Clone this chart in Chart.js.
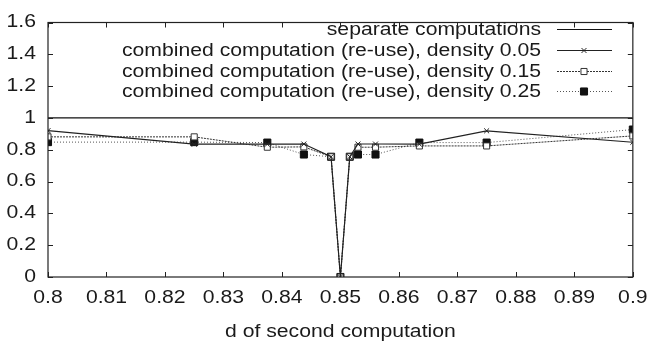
<!DOCTYPE html>
<html><head><meta charset="utf-8">
<script src="https://cdn.jsdelivr.net/npm/chart.js@4/dist/chart.umd.min.js"></script>
<style>html,body{margin:0;padding:0;background:#fff;}</style>
</head><body>
<canvas id="c" width="656" height="345"></canvas>
<script>
const xValues   = [0.8, 0.825, 0.8375, 0.84375, 0.8484, 0.85, 0.8516, 0.853, 0.856, 0.8635, 0.875, 0.9];
const density005 = [0.92, 0.835, 0.835, 0.836, 0.756, 0, 0.756, 0.836, 0.836, 0.835, 0.919, 0.847];
const density015 = [0.881, 0.881, 0.816, 0.818, 0.756, 0, 0.756, 0.816, 0.816, 0.824, 0.824, 0.887];
const density025 = [0.848, 0.848, 0.845, 0.77, 0.756, 0, 0.756, 0.77, 0.77, 0.845, 0.845, 0.927];
const separateX = [0.8, 0.9];
const separateY = [1, 1];
const xTicks = [0.8, 0.81, 0.82, 0.83, 0.84, 0.85, 0.86, 0.87, 0.88, 0.89, 0.9];
const yTicks = [0, 0.2, 0.4, 0.6, 0.8, 1, 1.2, 1.4, 1.6];
const seriesLabels = [
  'separate computations',
  'combined computation (re-use), density 0.05',
  'combined computation (re-use), density 0.15',
  'combined computation (re-use), density 0.25'
];
const xTitle = 'd of second computation';

const FONT = 'Liberation Sans, Arial, Helvetica, sans-serif';
const FSIZE = 17.5;
const SX = 1.21; // the reference text is horizontally stretched

// draw all text with the same horizontal stretch as the reference
const origFillText = CanvasRenderingContext2D.prototype.fillText;
CanvasRenderingContext2D.prototype.fillText = function (t, x, y) {
  this.save();
  this.translate(x, y);
  this.scale(SX, 1);
  origFillText.call(this, t, 0, 0);
  this.restore();
};

const pts = (xs, ys) => xs.map((x, i) => ({x: x, y: ys[i]}));

const datasets = [
  {label: seriesLabels[0], data: pts(separateX, separateY), borderColor: '#111', borderWidth: 1.2,
   pointRadius: 0, pointStyle: false},
  {label: seriesLabels[1], data: pts(xValues, density005), borderColor: '#222', borderWidth: 1.2,
   pointStyle: 'crossRot', pointRadius: 3.5, pointBorderColor: '#222', pointBorderWidth: 1, pointBackgroundColor: '#222'},
  {label: seriesLabels[2], data: pts(xValues, density015), borderColor: '#333', borderWidth: 1, borderDash: [2, 1],
   pointStyle: 'rect', pointRadius: 4.3, pointBorderColor: '#333', pointBorderWidth: 1, pointBackgroundColor: '#fff'},
  {label: seriesLabels[3], data: pts(xValues, density025), borderColor: '#555', borderWidth: 1, borderDash: [1, 2],
   pointStyle: 'rect', pointRadius: 5, pointBorderColor: '#111', pointBorderWidth: 1, pointBackgroundColor: '#111'}
];

const framePlugin = {
  id: 'frame',
  afterDatasetsDraw(chart) {
    const ctx = chart.ctx, a = chart.chartArea;
    const xs = chart.scales.x, ys = chart.scales.y;
    ctx.save();
    ctx.strokeStyle = '#222';
    ctx.lineWidth = 1.2;
    ctx.setLineDash([]);
    ctx.strokeRect(a.left, a.top, a.right - a.left, a.bottom - a.top);
    ctx.lineWidth = 1;
    const L = 5;
    ctx.beginPath();
    xs.ticks.forEach(t => {
      const px = Math.round(xs.getPixelForValue(t.value)) + 0.5;
      ctx.moveTo(px, a.bottom); ctx.lineTo(px, a.bottom - L);
      ctx.moveTo(px, a.top); ctx.lineTo(px, a.top + L);
    });
    ys.ticks.forEach(t => {
      const py = Math.round(ys.getPixelForValue(t.value)) + 0.5;
      ctx.moveTo(a.left, py); ctx.lineTo(a.left + L, py);
      ctx.moveTo(a.right, py); ctx.lineTo(a.right - L, py);
    });
    ctx.stroke();

    // legend (gnuplot style: right-aligned text, sample on right)
    const rowY = [29, 50, 71, 91];
    const textRight = 541, sx0 = 557, sx1 = 612, mx = 584;
    ctx.font = FSIZE + 'px ' + FONT;
    ctx.textAlign = 'right';
    ctx.textBaseline = 'middle';
    chart.data.datasets.forEach((ds, i) => {
      const y = rowY[i];
      ctx.fillStyle = '#1a1a1a';
      ctx.fillText(ds.label, textRight, y + 1);
      ctx.strokeStyle = ds.borderColor;
      ctx.lineWidth = ds.borderWidth;
      ctx.setLineDash(ds.borderDash || []);
      ctx.beginPath(); ctx.moveTo(sx0, y + 0.5); ctx.lineTo(sx1, y + 0.5); ctx.stroke();
      ctx.setLineDash([]);
      if (ds.pointStyle) {
        ctx.strokeStyle = ds.pointBorderColor;
        ctx.fillStyle = ds.pointBackgroundColor;
        ctx.lineWidth = ds.pointBorderWidth;
        Chart.helpers.drawPoint(ctx, {pointStyle: ds.pointStyle, radius: ds.pointRadius, rotation: 0, borderWidth: ds.pointBorderWidth}, mx, y + 0.5);
      }
    });
    ctx.restore();
  }
};

new Chart(document.getElementById('c'), {
  type: 'line',
  data: {datasets: datasets},
  options: {
    responsive: false,
    animation: false,
    layout: {padding: {left: 0, right: 18, top: 13, bottom: 0}},
    plugins: {legend: {display: false}, tooltip: {enabled: false}},
    elements: {line: {tension: 0}},
    scales: {
      x: {
        type: 'linear', min: 0.8, max: 0.9,
        afterBuildTicks: s => { s.ticks = xTicks.map(v => ({value: v})); },
        afterFit: s => { s.height = 68; },
        grid: {display: false, drawTicks: false},
        border: {display: false},
        ticks: {padding: 11, color: '#1a1a1a', font: {family: FONT, size: FSIZE},
                maxRotation: 0, autoSkip: false,
                callback: v => String(parseFloat(v.toFixed(2)))},
        title: {display: true, text: xTitle, color: '#1a1a1a', font: {family: FONT, size: FSIZE}, padding: {top: 0, bottom: 2}}
      },
      y: {
        type: 'linear', min: 0, max: 1.6,
        afterBuildTicks: s => { s.ticks = yTicks.map(v => ({value: v})); },
        afterFit: s => { s.width = 48; },
        grid: {display: false, drawTicks: false},
        border: {display: false},
        ticks: {padding: 12, color: '#1a1a1a', font: {family: FONT, size: FSIZE},
                callback: v => String(parseFloat(v.toFixed(1)))}
      }
    }
  },
  plugins: [framePlugin]
});
</script>
</body></html>
